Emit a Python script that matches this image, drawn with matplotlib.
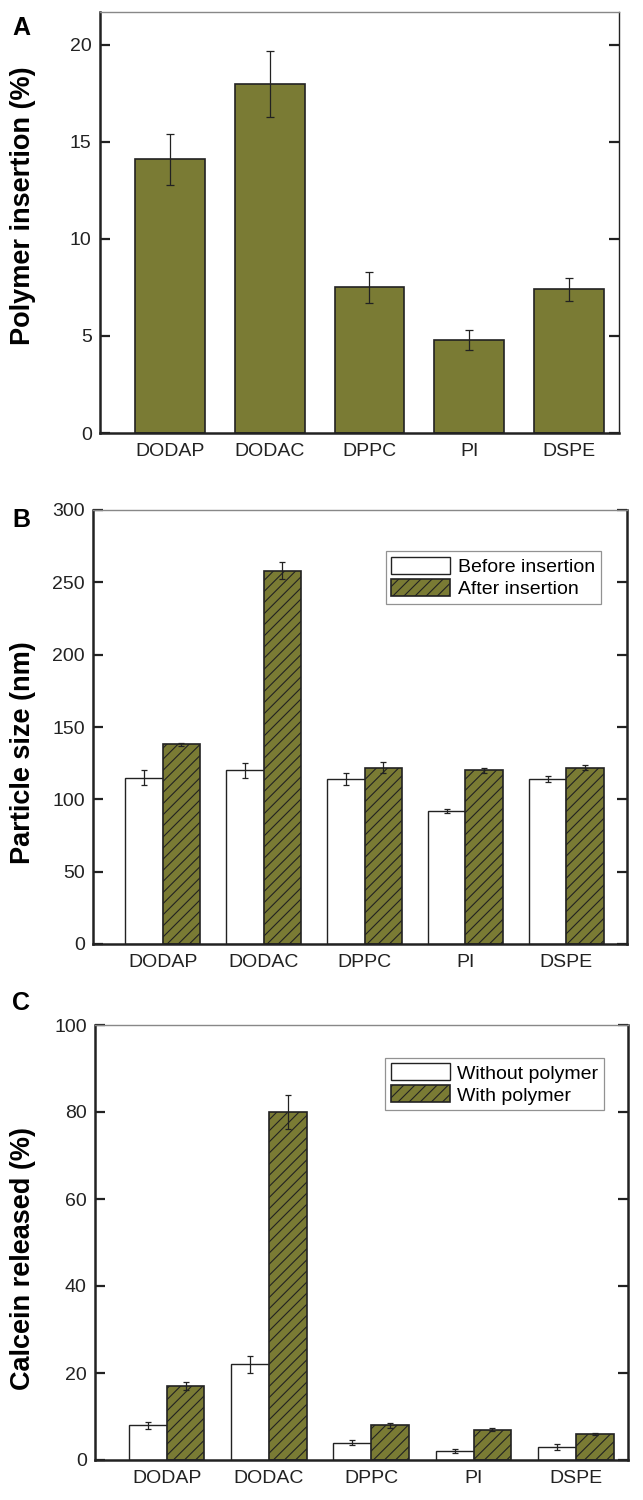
import numpy as np
import matplotlib
matplotlib.use("Agg")
import matplotlib.pyplot as plt

plt.rcParams['font.family'] = ['Liberation Sans', 'DejaVu Sans']
plt.rcParams['hatch.linewidth'] = 0.8

# ----------------------------
# Data
# ----------------------------
lipids = ["DODAP", "DODAC", "DPPC", "PI", "DSPE"]

insertion = [14.1, 18.0, 7.5, 4.8, 7.4]
insertion_err = [1.3, 1.7, 0.8, 0.5, 0.6]

size_before = [115, 120, 114, 92, 114]
size_before_err = [5, 5, 4, 1.5, 2]
size_after = [138, 258, 122, 120, 122]
size_after_err = [1.2, 6, 4, 1.5, 2]

release_without = [8, 22, 4, 2, 3]
release_without_err = [0.8, 2, 0.5, 0.5, 0.6]
release_with = [17, 80, 8, 7, 6]
release_with_err = [1, 4, 0.6, 0.3, 0.3]

olive = "#7a7b34"
x = np.arange(len(lipids))

fig = plt.figure(figsize=(6.43, 15), dpi=100)


def style_axes(ax, ylim, yticks, xlim):
    ax.set_xlim(*xlim)
    ax.set_ylim(*ylim)
    ax.set_yticks(yticks)
    ax.set_xticks(x)
    ax.set_xticklabels(lipids)
    ax.tick_params(axis="x", length=0, pad=7, labelsize=14, colors="#222222")
    ax.tick_params(axis="y", direction="in", length=7, width=1.6, pad=6,
                   labelsize=14, right=True, colors="#222222")
    for side in ["left", "bottom", "right"]:
        ax.spines[side].set_linewidth(1.8)
        ax.spines[side].set_color("#222222")
    ax.spines["top"].set_linewidth(1.0)
    ax.spines["top"].set_color("#888888")


def add_legend(ax, anchor):
    leg = ax.legend(loc="upper left", bbox_to_anchor=anchor, fontsize=14,
                    frameon=True, fancybox=False, edgecolor="#777777",
                    handlelength=3.0, handleheight=0.95, borderpad=0.3,
                    labelspacing=0.15, handletextpad=0.4, borderaxespad=0)
    leg.get_frame().set_linewidth(0.9)
    return leg


# ----------------------------
# A: polymer insertion
# ----------------------------
axA = fig.add_axes([100 / 643, 1 - 433 / 1500, 519 / 643, 421 / 1500])
axA.bar(x, insertion, width=0.7, color=olive, edgecolor="#222222", linewidth=1.2)
axA.errorbar(x, insertion, yerr=insertion_err, fmt="none", ecolor="#222222",
             elinewidth=0.9, capsize=3, capthick=0.9)
style_axes(axA, (0, 21.7), [0, 5, 10, 15, 20], (-0.7, 4.5))
axA.spines["right"].set_linewidth(1.0)
axA.set_ylabel("Polymer insertion (%)", fontsize=19.5, fontweight="bold")
axA.yaxis.set_label_coords(-0.123, 0.54)
fig.text(12 / 643, 1 - 35 / 1500, "A", fontsize=18, fontweight="bold")

# ----------------------------
# B: particle size
# ----------------------------
w = 0.37
axB = fig.add_axes([93 / 643, 1 - 944 / 1500, 534 / 643, 434 / 1500])
axB.bar(x - w / 2, size_before, width=w, color="white", edgecolor="#222222",
        linewidth=1.0, label="Before insertion")
axB.bar(x + w / 2, size_after, width=w, color=olive, edgecolor="#222222",
        linewidth=1.2, hatch="///", label="After insertion")
axB.errorbar(x - w / 2, size_before, yerr=size_before_err, fmt="none",
             ecolor="#222222", elinewidth=0.9, capsize=2.5, capthick=0.9)
axB.errorbar(x + w / 2, size_after, yerr=size_after_err, fmt="none",
             ecolor="#222222", elinewidth=0.9, capsize=2.5, capthick=0.9)
style_axes(axB, (0, 300), [0, 50, 100, 150, 200, 250, 300], (-0.69, 4.6))
axB.set_ylabel("Particle size (nm)", fontsize=19.5, fontweight="bold")
axB.yaxis.set_label_coords(-0.107, 0.442)
add_legend(axB, (0.548, 0.905))
fig.text(12 / 643, 1 - 527 / 1500, "B", fontsize=18, fontweight="bold")

# ----------------------------
# C: calcein release
# ----------------------------
axC = fig.add_axes([95 / 643, 1 - 1460 / 1500, 533 / 643, 435 / 1500])
axC.bar(x - w / 2, release_without, width=w, color="white", edgecolor="#222222",
        linewidth=1.0, label="Without polymer")
axC.bar(x + w / 2, release_with, width=w, color=olive, edgecolor="#222222",
        linewidth=1.2, hatch="///", label="With polymer")
axC.errorbar(x - w / 2, release_without, yerr=release_without_err, fmt="none",
             ecolor="#222222", elinewidth=0.9, capsize=2.5, capthick=0.9)
axC.errorbar(x + w / 2, release_with, yerr=release_with_err, fmt="none",
             ecolor="#222222", elinewidth=0.9, capsize=2.5, capthick=0.9)
style_axes(axC, (0, 100), [0, 20, 40, 60, 80, 100], (-0.7, 4.51))
axC.set_ylabel("Calcein released (%)", fontsize=19.5, fontweight="bold")
axC.yaxis.set_label_coords(-0.111, 0.464)
add_legend(axC, (0.545, 0.925))
fig.text(12 / 643, 1 - 1010 / 1500, "C", fontsize=18, fontweight="bold")

fig.savefig("out.png", dpi=100)
